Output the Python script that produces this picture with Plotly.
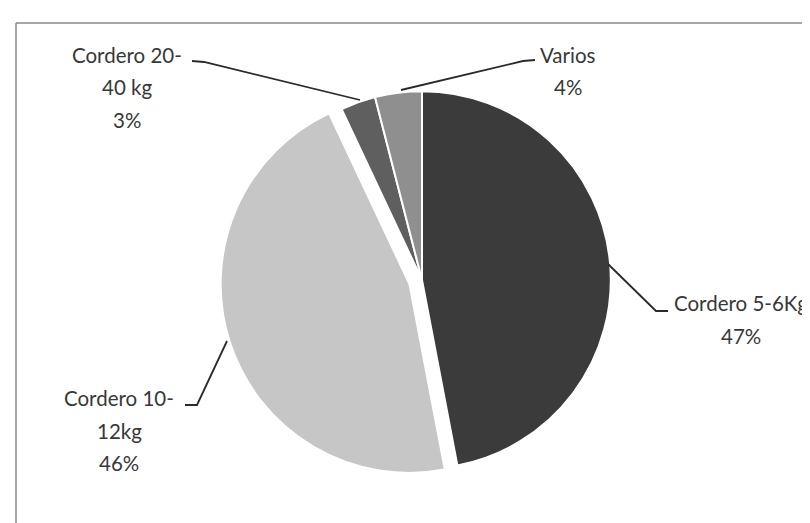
import plotly.graph_objects as go

# ---- data ----
categories = ["Cordero 5-6Kg", "Cordero 10-12kg", "Cordero 20-40 kg", "Varios"]
values = [47, 46, 3, 4]
label_text = ["Cordero 5-6Kg", "Cordero 10-<br>12kg", "Cordero 20-<br>40 kg", "Varios"]
colors = ["#3b3b3b", "#c6c6c6", "#5f5f5f", "#8f8f8f"]
pulls = [0, 0.07, 0, 0]

W, H = 810, 523

def px(x):
    return x / W

def py(y):
    return 1 - y / H

fig = go.Figure()
fig.add_trace(go.Pie(
    labels=categories,
    values=values,
    sort=False,
    direction="clockwise",
    rotation=0,
    pull=pulls,
    marker=dict(colors=colors, line=dict(color="white", width=2)),
    textinfo="none",
    hoverinfo="label+percent",
    showlegend=False,
    domain=dict(x=[px(212), px(616)], y=[py(474), py(70)]),
))

# label placement (pixel centre of first line) and leader line paths
label_pos = [(733, 295), (111, 390), (119, 47), (560, 47)]
leaders = [
    [(600, 256), (648, 303), (660, 303)],
    [(219, 333), (189, 397), (177, 397)],
    [(352, 92), (196, 54), (184, 53)],
    [(393, 82), (515, 53), (527, 52)],
]
line_gap = 32.5
total = sum(values)

annotations = []
for i, cat in enumerate(categories):
    lines = label_text[i].split("<br>") + [f"{round(values[i] / total * 100)}%"]
    cx, cy = label_pos[i]
    for j, t in enumerate(lines):
        annotations.append(dict(
            x=px(cx), y=py(cy + j * line_gap), xref="paper", yref="paper",
            text=t, showarrow=False, xanchor="center", yanchor="middle",
            font=dict(family="Lato", size=20.5, color="#383838"),
        ))

shapes = []
for pts in leaders:
    path = "M " + " L ".join(f"{px(x)},{py(y)}" for x, y in pts)
    shapes.append(dict(type="path", path=path, xref="paper", yref="paper",
                       line=dict(color="#2a2a2a", width=1.8)))

# chart frame (top and left edges visible)
shapes.append(dict(type="line", xref="paper", yref="paper",
                   x0=px(8), y0=py(15), x1=px(812), y1=py(15),
                   line=dict(color="#8a8a8a", width=1.5)))
shapes.append(dict(type="line", xref="paper", yref="paper",
                   x0=px(8), y0=py(15), x1=px(8), y1=py(525),
                   line=dict(color="#8a8a8a", width=1.5)))

fig.update_layout(
    width=W, height=H,
    margin=dict(l=0, r=0, t=0, b=0),
    paper_bgcolor="white",
    plot_bgcolor="white",
    annotations=annotations,
    shapes=shapes,
)

fig.write_html("out.html")
